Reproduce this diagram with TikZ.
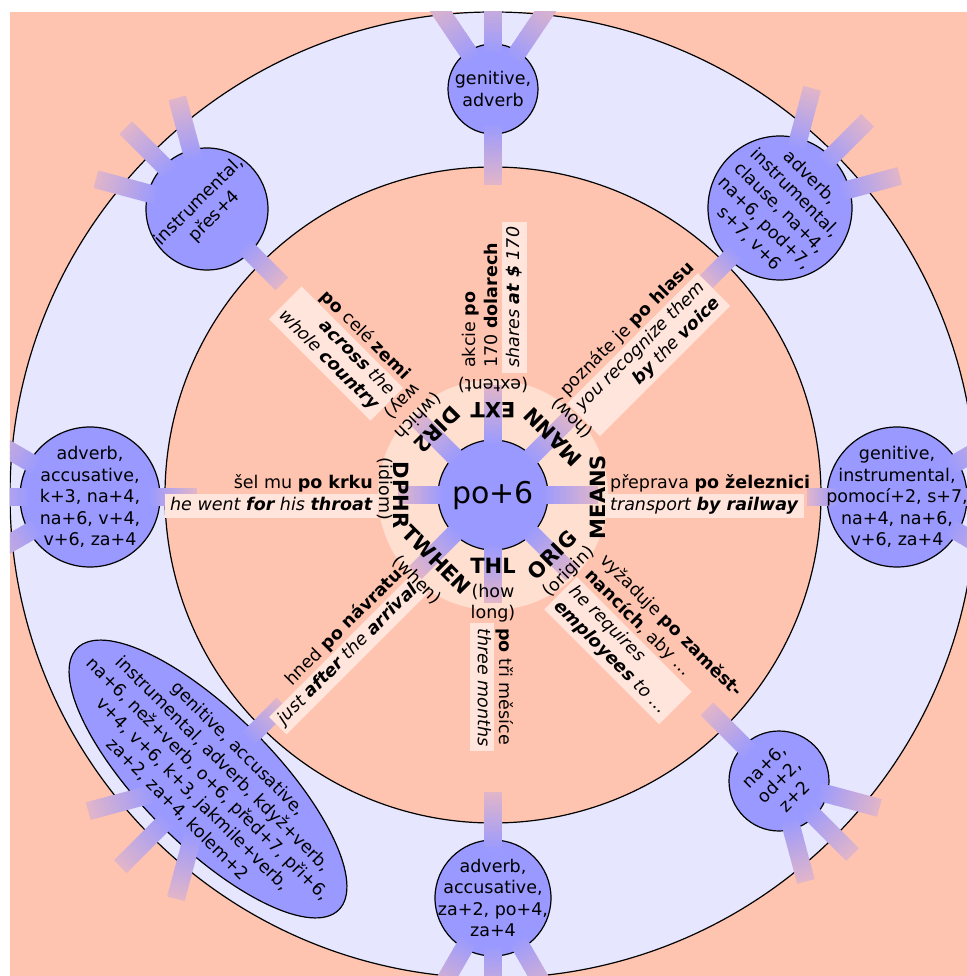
\documentclass[tikz,border=0pt]{standalone}
\usepackage{fontspec}
\setmainfont{DejaVu Sans}
\usetikzlibrary{calc,shapes.geometric}

\definecolor{salmonbg}{RGB}{255,196,176}
\definecolor{ringbg}{RGB}{230,230,255}
\definecolor{caseblue}{RGB}{153,153,255}
\definecolor{palecore}{RGB}{255,224,208}
\definecolor{glossbox}{RGB}{255,229,220}
\definecolor{rayend}{RGB}{224,181,202}

\newcommand\txt{\fontsize{17.5}{21.5}\selectfont}
\newcommand\catfont{\fontsize{21}{24}\selectfont\bfseries}
\newcommand\hubfont{\fontsize{30}{36}\selectfont}

% a thick ray leaving node #1 at angle #2, from radius #3 to radius #4,
% blending from the case colour to a pale pink
\newcommand\raybar[4]{%
  \foreach \k in {0,...,23}{%
    \pgfmathsetmacro\rayA{#3+(#4-#3)*\k/24}%
    \pgfmathsetmacro\rayB{#3+(#4-#3)*min(\k+1.4,24)/24}%
    \pgfmathtruncatemacro\rayP{round(100*\k/23)}%
    \draw[line width=18pt, draw=rayend!\rayP!caseblue]
      ($(#1)+(#2:\rayA)$) -- ($(#1)+(#2:\rayB)$);
  }%
}

\begin{document}
\begin{tikzpicture}[x=1pt,y=1pt,
  casenode/.style={draw=black, line width=1.2pt, fill=caseblue, inner sep=0pt},
  casetext/.style={font=\txt, align=center, inner sep=0pt, text=black},
  czline/.style={font=\txt, inner sep=0pt},
  enline/.style={font=\txt, fill=glossbox, inner xsep=5pt, inner ysep=1.5pt},
  catlabel/.style={font=\catfont, inner sep=0pt},
  sublabel/.style={font=\txt, align=center, inner sep=0pt}]
\useasboundingbox (-493,-481) rectangle (473,495);
\begin{scope}
\clip (-483,-483) rectangle (483,483);
\fill[salmonbg] (-483,-483) rectangle (483,483);

% rings
\draw[line width=1.2pt, fill=ringbg] (0,0) circle[radius=483];
\draw[line width=1.2pt, fill=salmonbg] (0,0) circle[radius=328];
\fill[palecore] (0,0) circle[radius=115];

% hub
\node[casenode, circle, minimum size=110pt] (hub) at (0,0) {};
\raybar{hub}{0}{48}{105}
\raybar{hub}{45}{48}{112}
\raybar{hub}{90}{48}{110}
\raybar{hub}{135}{48}{110}
\raybar{hub}{180}{48}{95}
\raybar{hub}{225}{48}{110}
\raybar{hub}{270}{48}{108}
\raybar{hub}{315}{48}{112}
\node[font=\hubfont, inner sep=0pt] (hubtext) at (hub) {po+6};

% case nodes in the ring
\node[casenode, circle, minimum size=90pt]  (ext)   at (0,406) {};
\node[casenode, circle, minimum size=144pt] (mann)  at (287,287) {};
\node[casenode, circle, minimum size=140pt] (means) at (404,-2) {};
\node[casenode, circle, minimum size=100pt] (orig)  at (286,-286) {};
\node[casenode, circle, minimum size=116pt] (thl)   at (0,-403) {};
\node[casenode, ellipse, minimum width=370pt, minimum height=132pt, rotate=-45] (twhen) at (-285,-284) {};
\node[casenode, circle, minimum size=140pt] (dphr)  at (-403,-2) {};
\node[casenode, circle, minimum size=122pt] (dir)   at (-286,286) {};

% rays towards the hub
\raybar{ext}{270}{33}{96}
\raybar{mann}{225}{60}{106}
\raybar{means}{180}{58}{90}
\raybar{orig}{135}{38}{102}
\raybar{thl}{90}{46}{106}
\raybar{twhen}{45}{54}{106}
\raybar{dphr}{0}{58}{107}
\raybar{dir}{-45}{49}{106}

% rays leaving the ring
\foreach \d in {-34,0,34}{
  \raybar{ext}{90+\d}{33}{105}
}
\foreach \d in {-30,0,30}{
  \raybar{mann}{45+\d}{60}{124}
  \raybar{means}{0+\d}{58}{124}
  \raybar{orig}{-45+\d}{38}{104}
  \raybar{thl}{-90+\d}{46}{112}
  \raybar{twhen}{225+\d}{54}{124}
  \raybar{dphr}{180+\d}{58}{124}
  \raybar{dir}{135+\d}{49}{115}
}

% case texts
\node[casetext] (extT) at (ext) {genitive,\\adverb};
\node[casetext, rotate=-45] (mannT) at (mann) {adverb,\\instrumental,\\clause, na+4,\\na+6, pod+7,\\s+7, v+6};
\node[casetext] (meansT) at (means) {genitive,\\instrumental,\\pomocí+2, s+7,\\na+4, na+6,\\v+6, za+4};
\node[casetext, rotate=45] (origT) at (orig) {na+6,\\od+2,\\z+2};
\node[casetext] (thlT) at (thl) {adverb,\\accusative,\\za+2, po+4,\\za+4};
\node[casetext, rotate=-45] (twhenT) at (twhen) {genitive, accusative,\\instrumental, adverb, když+verb,\\na+6, než+verb, o+6, před+7, při+6,\\v+4, v+6, k+3, jakmile+verb,\\za+2, za+4, kolem+2};
\node[casetext] (dphrT) at (dphr) {adverb,\\accusative,\\k+3, na+4,\\na+6, v+4,\\v+6, za+4};
\node[casetext, rotate=45] (dirT) at (dir) {instrumental,\\přes+4};

% examples along the rays
\begin{scope}[rotate=0, transform shape]
  \node[czline, anchor=south west] (meansCz) at (117,0) {\strut přeprava \textbf{po železnici}};
  \node[enline, anchor=north west] (meansEn) at (112,1.5) {\strut\textit{transport \textbf{by railway}}};
\end{scope}
\begin{scope}[rotate=45, transform shape]
  \node[czline, anchor=south west] (mannCz) at (122,10.75) {\strut poznáte je \textbf{po hlasu}};
  \node[enline, anchor=north west, align=right] (mannEn) at (117,12.25) {\strut\textit{you recognize them}\\\strut\textit{\textbf{by} the \textbf{voice}}};
\end{scope}
\begin{scope}[rotate=90, transform shape]
  \node[czline, anchor=south west, align=left] (extCz) at (127,-10.75) {\strut akcie \textbf{po}\\\strut 170 \textbf{dolarech}};
  \node[enline, anchor=north west] (extEn) at (122,-9.25) {\strut\textit{shares \textbf{at \$} 170}};
\end{scope}
\begin{scope}[rotate=-45, transform shape]
  \node[czline, anchor=south west, align=left] (origCz) at (122,0) {\strut vyžaduje \textbf{po zaměst-}\\\strut\textbf{nancích}, aby …};
  \node[enline, anchor=north west, align=left] (origEn) at (117,1.5) {\strut\textit{he requires}\\\strut\textit{\textbf{employees} to …}};
  \node[czline, anchor=south east] (dirCz) at (-144,10.75) {\strut\textbf{po} celé \textbf{zemi}};
  \node[enline, anchor=north east, align=right] (dirEn) at (-139,12.25) {\strut\textit{\textbf{across} the}\\\strut\textit{whole \textbf{country}}};
\end{scope}
\begin{scope}[rotate=-90, transform shape]
  \node[czline, anchor=south west] (thlCz) at (133,0) {\strut\textbf{po} tři měsíce};
  \node[enline, anchor=north west] (thlEn) at (128,1.5) {\strut\textit{three months}};
\end{scope}
\begin{scope}[rotate=45, transform shape]
  \node[czline, anchor=south east] (twhenCz) at (-120,0) {\strut hned \textbf{po návratu}};
  \node[enline, anchor=north east] (twhenEn) at (-115,1.5) {\strut\textit{just \textbf{after} the \textbf{arrival}}};
\end{scope}
\begin{scope}[rotate=0, transform shape]
  \node[czline, anchor=south east] (dphrCz) at (-120,0) {\strut šel mu \textbf{po krku}};
  \node[enline, anchor=north east] (dphrEn) at (-115,1.5) {\strut\textit{he went \textbf{for} his \textbf{throat}}};
\end{scope}

% relation labels round the hub
\node[catlabel, rotate=180] (extL) at (0,84.5) {EXT};
\node[sublabel, rotate=180] (extS) at (0,110) {(extent)};
\node[catlabel, rotate=135] (mannL) at (60,58) {MANN};
\node[sublabel, rotate=135] (mannS) at (79,77) {(how)};
\node[catlabel, rotate=225] (dirL) at (-56,65) {DIR2};
\node[sublabel, rotate=225] (dirS) at (-83,87) {(which\\way)};
\node[catlabel, rotate=270] (dphrL) at (-92,0) {DPHR};
\node[sublabel, rotate=270] (dphrS) at (-108,6) {(idiom)};
\node[catlabel, rotate=90] (meansL) at (104.5,-2) {MEANS};
\node[catlabel, rotate=45] (origL) at (59,-60) {ORIG};
\node[sublabel, rotate=45] (origS) at (76,-77) {(origin)};
\node[catlabel] (thlL) at (0,-71) {THL};
\node[sublabel] (thlS) at (0,-108) {(how\\long)};
\node[catlabel, rotate=-45] (twhenL) at (-56,-65) {TWHEN};
\node[sublabel, rotate=-45] (twhenS) at (-76,-85) {(when)};
\end{scope}
\end{tikzpicture}
\end{document}
